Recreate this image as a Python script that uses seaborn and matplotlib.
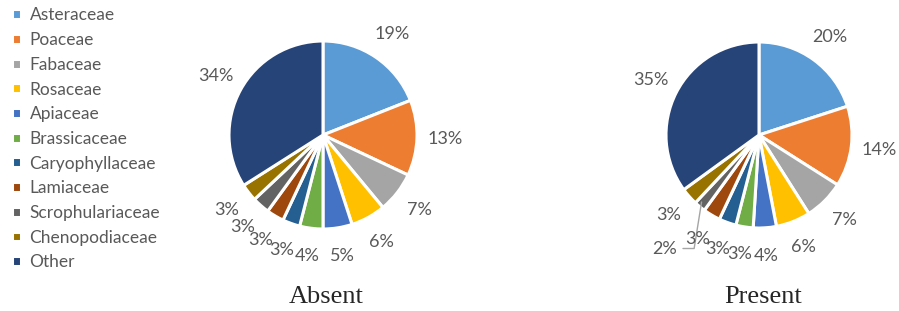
import numpy as np
import matplotlib
matplotlib.use("Agg")
import matplotlib.pyplot as plt
import seaborn as sns

families = ["Asteraceae", "Poaceae", "Fabaceae", "Rosaceae", "Apiaceae", "Brassicaceae",
            "Caryophyllaceae", "Lamiaceae", "Scrophulariaceae", "Chenopodiaceae", "Other"]
absent = [19, 13, 7, 6, 5, 4, 3, 3, 3, 3, 34]
present = [20, 14, 7, 6, 4, 3, 3, 3, 2, 3, 35]
titles = ["Absent", "Present"]
colors = ["#5B9BD5", "#ED7D31", "#A5A5A5", "#FFC000", "#4472C4", "#70AD47",
          "#255E91", "#9E480E", "#636363", "#997300", "#264478"]

sns.set_style("white")
plt.rcParams["font.family"] = ["Lato", "DejaVu Sans"]
palette = sns.color_palette(colors)

W, H = 899, 311
fig = plt.figure(figsize=(W / 100, H / 100), dpi=100)

# pie boxes in pixels: center x, center y, radius
boxes = [(323, 135, 94), (759, 135, 93)]
title_pos = [(326, 297), (763, 297)]

def draw_pie(ax, vals):
    wedges, _, autotexts = ax.pie(
        vals, colors=palette, startangle=90, counterclock=False,
        autopct=lambda p: f"{p:.0f}%", pctdistance=1.3,
        wedgeprops=dict(edgecolor="white", linewidth=2.2),
        textprops=dict(color="#595959", fontsize=13))
    ax.set_xlim(-1, 1)
    ax.set_ylim(-1, 1)
    ax.set_aspect("equal")
    ax.axis("off")
    return wedges, autotexts

handles = None
for i, vals in enumerate([absent, present]):
    cx, cy, r = boxes[i]
    ax = fig.add_axes([(cx - r) / W, (H - cy - r) / H, 2 * r / W, 2 * r / H])
    wedges, autotexts = draw_pie(ax, vals)
    if handles is None:
        handles = wedges
    fig.text(title_pos[i][0] / W, 1 - title_pos[i][1] / H, titles[i],
             family="Liberation Serif", fontsize=19, ha="center", va="center")
    if i == 1:
        # the small Scrophulariaceae label sits off to the left with a leader line
        w = wedges[8]
        ang = np.deg2rad((w.theta1 + w.theta2) / 2)
        x0, y0 = np.cos(ang), np.sin(ang)
        t = autotexts[8]
        tx, ty = x0 - 0.38, y0 - 0.45
        t.set_position((tx, ty))
        ax.plot([x0 + 0.02, x0 - 0.06, tx + 0.2], [y0 + 0.05, ty, ty],
                color="#A5A5A5", lw=1, clip_on=False)

leg = fig.legend(handles, families, loc="upper left", bbox_to_anchor=(0.0, 1.015),
                 frameon=False, fontsize=12.5, handlelength=0.5, handleheight=0.5,
                 handletextpad=0.5, labelspacing=0.5, borderaxespad=0.3)
for txt in leg.get_texts():
    txt.set_color("#595959")

fig.savefig("out.png", dpi=100)
